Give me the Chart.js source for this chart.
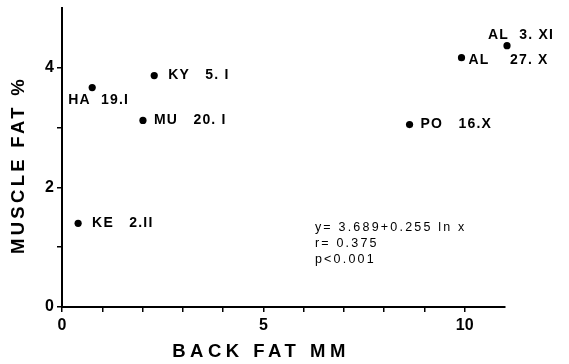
<!DOCTYPE html>
<html><head><meta charset="utf-8">
<script src="https://cdn.jsdelivr.net/npm/chart.js@4"></script>
<style>html,body{margin:0;padding:0;background:#fff}#wrap{width:569px;height:364px}</style>
</head><body><div id="wrap"><canvas id="c" width="569" height="364"></canvas></div>
<script>
const sampleLabels = ['HA  19.I', 'KY   5. I', 'MU   20. I', 'KE   2.II', 'PO   16.X', 'AL    27. X', 'AL  3. XI'];
const backFatMM = [0.75, 2.29, 2.01, 0.40, 8.63, 9.92, 11.05];
const muscleFatPct = [3.67, 3.87, 3.12, 1.40, 3.05, 4.17, 4.37];
const xTickLabels = {0: '0', 5: '5', 10: '10'};
const yTickLabels = {0: '0', 2: '2', 4: '4'};
const regressionText = ['y= 3.689+0.255 ln x', 'r= 0.375', 'p<0.001'];
const xTitle = 'BACK FAT MM';
const yTitle = 'MUSCLE FAT %';

const labelOffsets = [[-24, 13], [14, 0], [11, 0], [14, 0], [11, 0], [7, 3], [-19, -11]];

const annot = {
  id: 'annot',
  afterDatasetsDraw(chart) {
    const {ctx, scales: {x, y}} = chart;
    ctx.save();
    ctx.fillStyle = '#000';
    ctx.textBaseline = 'middle';
    ctx.textAlign = 'left';
    ctx.font = 'bold 14px "Liberation Sans", Arial, sans-serif';
    ctx.letterSpacing = '1.2px';
    sampleLabels.forEach((t, i) => {
      const px = x.getPixelForValue(backFatMM[i]);
      const py = y.getPixelForValue(muscleFatPct[i]);
      const [dx, dy] = labelOffsets[i];
      ctx.fillText(t, px + dx, py + dy);
    });
    ctx.font = '12.5px "Liberation Sans", Arial, sans-serif';
    ctx.letterSpacing = '2.2px';
    const rx = x.getPixelForValue(6.28);
    regressionText.forEach((t, i) => {
      ctx.fillText(t, rx, y.getPixelForValue(1.33) + 16 * i);
    });
    ctx.font = 'bold 18.5px "Liberation Sans", Arial, sans-serif';
    ctx.letterSpacing = '4.5px';
    ctx.textAlign = 'center';
    ctx.fillText(xTitle, 261, 352);
    ctx.letterSpacing = '3.3px';
    ctx.translate(19, 165);
    ctx.rotate(-Math.PI / 2);
    ctx.fillText(yTitle, 0, 0);
    ctx.restore();
  }
};

new Chart(document.getElementById('c'), {
  type: 'scatter',
  data: {
    datasets: [{
      data: backFatMM.map((v, i) => ({x: v, y: muscleFatPct[i]})),
      backgroundColor: '#000',
      borderWidth: 0,
      pointRadius: 3.6,
      clip: false
    }]
  },
  options: {
    responsive: false,
    animation: false,
    devicePixelRatio: 1,
    layout: {padding: {top: 8, right: 64, left: 0, bottom: 0}},
    plugins: {legend: {display: false}, tooltip: {enabled: false}},
    scales: {
      x: {
        type: 'linear', min: 0, max: 11,
        afterBuildTicks: s => { s.ticks = s.ticks.filter(t => t.value <= 10); },
        afterFit: s => { s.height = 57; s.paddingLeft = 0; s.paddingRight = 0; },
        ticks: {stepSize: 1, autoSkip: false, maxRotation: 0, padding: 4,
          callback: v => xTickLabels[v] ?? '',
          color: '#000', font: {family: '"Liberation Sans", Arial', size: 16, weight: 'bold'}},
        grid: {drawOnChartArea: false, drawTicks: true, tickLength: 5, color: '#000', lineWidth: 1.5},
        border: {color: '#000', width: 2}
      },
      y: {
        type: 'linear', min: 0, max: 5,
        afterBuildTicks: s => { s.ticks = s.ticks.filter(t => t.value < 5); },
        afterFit: s => { s.width = 62; s.paddingTop = 0; s.paddingBottom = 0; },
        ticks: {stepSize: 1, autoSkip: false, padding: 3,
          callback: v => yTickLabels[v] ?? '',
          color: '#000', font: {family: '"Liberation Sans", Arial', size: 16, weight: 'bold'}},
        grid: {drawOnChartArea: false, drawTicks: true, tickLength: 5, color: '#000', lineWidth: 1.5},
        border: {color: '#000', width: 2}
      }
    }
  },
  plugins: [annot]
});
</script>
</body></html>
